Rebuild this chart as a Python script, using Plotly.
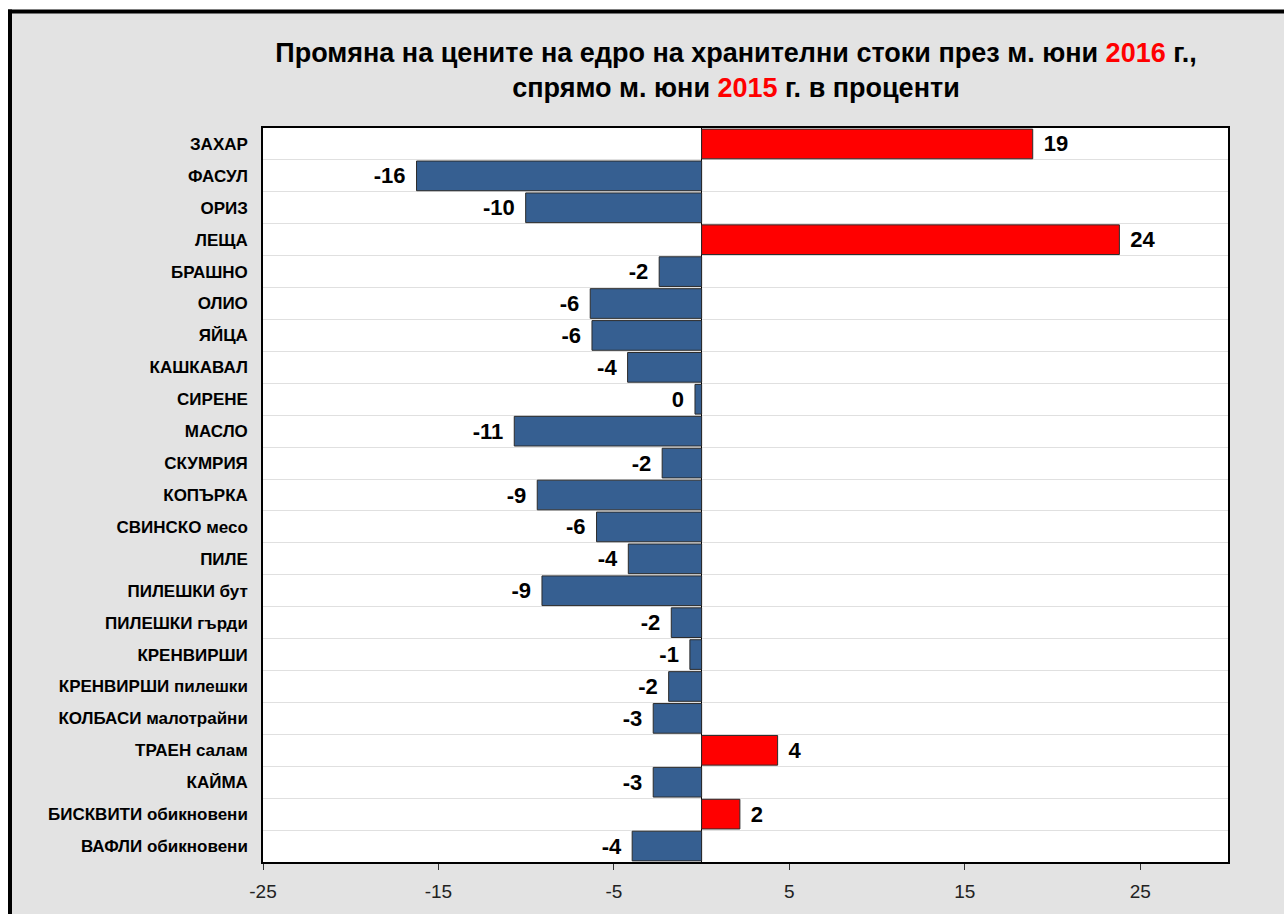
import plotly.graph_objects as go

categories = [
    "ЗАХАР", "ФАСУЛ", "ОРИЗ", "ЛЕЩА", "БРАШНО", "ОЛИО", "ЯЙЦА", "КАШКАВАЛ",
    "СИРЕНЕ", "МАСЛО", "СКУМРИЯ", "КОПЪРКА", "СВИНСКО месо", "ПИЛЕ",
    "ПИЛЕШКИ бут", "ПИЛЕШКИ гърди", "КРЕНВИРШИ", "КРЕНВИРШИ пилешки",
    "КОЛБАСИ малотрайни", "ТРАЕН салам", "КАЙМА", "БИСКВИТИ обикновени",
    "ВАФЛИ обикновени",
]
values = [
    18.87, -16.25, -10.03, 23.81, -2.42, -6.35, -6.25, -4.22,
    -0.38, -10.68, -2.25, -9.37, -5.99, -4.18,
    -9.10, -1.73, -0.67, -1.88,
    -2.76, 4.33, -2.76, 2.18,
    -3.96,
]
x_ticks = [-25, -15, -5, 5, 15, 25]
x_tick_labels = ["-25", "-15", "-5", "5", "15", "25"]

POS_COLOR = "#FF0000"
NEG_COLOR = "#365F91"

colors = [POS_COLOR if v > 0 else NEG_COLOR for v in values]
GAP = "\u00a0\u200a"
labels = []
for v in values:
    r = int(round(v))
    s = str(r) if r != 0 else "0"
    labels.append(GAP + s if v > 0 else s + GAP)

fig = go.Figure()
fig.add_trace(go.Bar(
    y=categories,
    x=values,
    orientation="h",
    marker=dict(color=colors, line=dict(color="#2B2B2B", width=1)),
    text=labels,
    textposition="outside",
    cliponaxis=False,
    textfont=dict(family="Arial, Liberation Sans", size=22, color="black", weight="bold"),
    hoverinfo="x+y",
))

W, H = 1284, 914
L, R, T, B = 263, 56, 128, 52
pw, ph = W - L - R, H - T - B


def px(x):
    return (x - L) / pw


def py(y):
    return (H - B - y) / ph


shapes = [
    dict(type="rect", xref="paper", yref="paper", x0=px(-5), x1=px(W + 5), y0=py(10), y1=py(-5),
         fillcolor="white", line=dict(width=0)),
    dict(type="rect", xref="paper", yref="paper", x0=px(-5), x1=px(8), y0=py(H + 5), y1=py(-5),
         fillcolor="white", line=dict(width=0)),
    dict(type="line", xref="paper", yref="paper", x0=px(10), x1=px(10), y0=py(H + 5), y1=py(9.5),
         line=dict(color="black", width=4)),
    dict(type="line", xref="paper", yref="paper", x0=px(8), x1=px(W + 5), y0=py(11.5), y1=py(11.5),
         line=dict(color="black", width=4)),
]

fig.update_layout(
    width=W, height=H,
    margin=dict(l=L, r=R, t=T, b=B),
    paper_bgcolor="#E3E3E3",
    plot_bgcolor="white",
    showlegend=False,
    bargap=0.07,
    font=dict(family="Arial, Liberation Sans", color="black"),
    title=dict(
        text="<b>Промяна на цените на едро на хранителни стоки през м. юни "
             "<span style='color:#FF0000'>2016</span> г.,<br>"
             "спрямо м. юни <span style='color:#FF0000'>2015</span> г. в проценти</b>",
        x=736 / W, xanchor="center",
        y=1 - 62 / H, yanchor="middle",
        font=dict(family="Arial, Liberation Sans", size=27, color="black"),
    ),
    shapes=shapes,
)

fig.update_xaxes(
    range=[-25, 30],
    tickvals=x_ticks,
    ticktext=x_tick_labels,
    ticks="outside", ticklen=6, tickcolor="#333333", tickwidth=1,
    ticklabelstandoff=5,
    showgrid=False,
    zeroline=True, zerolinecolor="black", zerolinewidth=1,
    showline=True, linecolor="black", linewidth=1.5, mirror=True,
    tickfont=dict(family="Liberation Sans Narrow, Arial Narrow, Arial", size=19, color="#222222"),
)
fig.update_yaxes(
    autorange="reversed",
    tickson="boundaries",
    ticks="",
    showgrid=True, gridcolor="#E0E0E0", gridwidth=1,
    showline=True, linecolor="black", linewidth=1.5, mirror=True,
    tickfont=dict(family="Arial, Liberation Sans", size=17, color="black"),
    ticklabelstandoff=10,
    tickvals=categories,
    ticktext=["<b>" + c + "</b>" for c in categories],
)

fig.write_html(
    "out.html",
    config={"displayModeBar": False},
    post_script="document.body.style.margin='0';",
)
